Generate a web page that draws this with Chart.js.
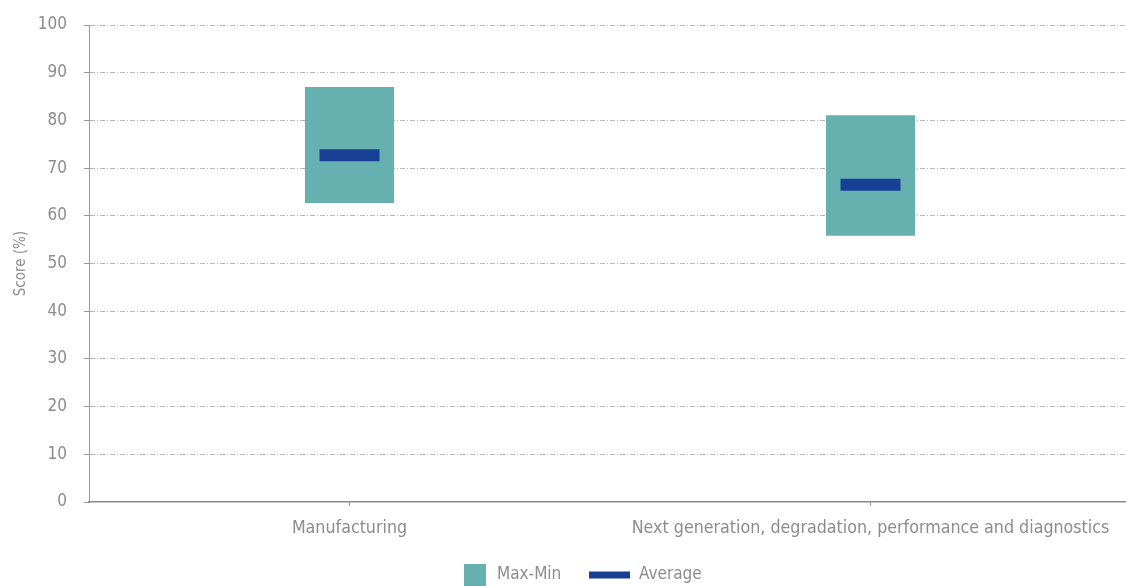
<!DOCTYPE html>
<html>
<head>
<meta charset="utf-8">
<script src="https://cdn.jsdelivr.net/npm/chart.js@4.4.0/dist/chart.umd.min.js"></script>
<style>
  html, body { margin: 0; padding: 0; overflow: hidden; background: #fff; }
  #wrap { width: 1132px; height: 586px; }
</style>
</head>
<body>
<div id="wrap"><canvas id="rangechart"></canvas></div>
<script>
const categories = ['Manufacturing', 'Next generation, degradation, performance and diagnostics'];
const minScores = [62.7, 55.8];
const maxScores = [87.0, 81.1];
const avgScores = [72.7, 66.5];
const yTicks = [0, 10, 20, 30, 40, 50, 60, 70, 80, 90, 100];

const FONT = "'DejaVu Sans Condensed', 'DejaVu Sans', sans-serif";
// no condensed web font here, so ask for the condensed stretch of an installed one
const STRETCH = 'condensed';
const TEXT = '#8c8c8c';
const TEAL = '#66b0b0';
const NAVY = '#173f93';

const bottomLegend = {
    id: 'bottomLegend',
    afterDraw(chart) {
        const c = chart.ctx;
        const y = 575;
        c.save();
        c.font = STRETCH + ' 17px ' + FONT;
        c.textBaseline = 'middle';
        c.fillStyle = TEAL;
        c.fillRect(464, y - 11, 22, 22);
        c.fillStyle = TEXT;
        c.fillText('Max-Min', 497, y);
        c.fillStyle = NAVY;
        c.fillRect(589, y - 3.5, 41, 7);
        c.fillStyle = TEXT;
        c.fillText('Average', 639, y);
        c.restore();
    }
};

const ctx = document.getElementById('rangechart').getContext('2d');
new Chart(ctx, {
    data: {
        labels: categories,
        datasets: [
            {
                type: 'line',
                label: 'Average',
                data: avgScores,
                showLine: false,
                pointStyle: 'line',
                pointRadius: 30,
                pointHoverRadius: 30,
                pointBorderWidth: 12,
                pointHoverBorderWidth: 12,
                borderColor: NAVY,
                backgroundColor: NAVY,
                order: 0
            },
            {
                type: 'bar',
                label: 'Max-Min',
                data: minScores.map((v, i) => [v, maxScores[i]]),
                backgroundColor: TEAL,
                borderWidth: 0,
                barPercentage: 1,
                categoryPercentage: 0.171,
                order: 1
            }
        ]
    },
    options: {
        responsive: true,
        maintainAspectRatio: false,
        animation: false,
        layout: { autoPadding: false, padding: { top: 25, bottom: 34, right: 1, left: 0 } },
        plugins: {
            legend: { display: false },
            tooltip: { enabled: false }
        },
        scales: {
            x: {
                afterFit(scale) {
                    scale.height = 50;
                    scale.paddingLeft = 0;
                    scale.paddingRight = 0;
                },
                grid: {
                    offset: false,
                    drawOnChartArea: false,
                    drawTicks: true,
                    tickLength: 4,
                    tickColor: '#999'
                },
                border: { color: '#8a8a8a', width: 1.5, z: 1 },
                ticks: {
                    color: TEXT,
                    padding: 12,
                    autoSkip: false,
                    maxRotation: 0,
                    font: { family: FONT, size: 17.7, weight: STRETCH }
                }
            },
            y: {
                min: 0,
                max: 100,
                afterFit(scale) {
                    scale.width = 89;
                    scale.paddingTop = 0;
                    scale.paddingBottom = 0;
                },
                afterBuildTicks(scale) { scale.ticks = yTicks.map(v => ({ value: v })); },
                grid: {
                    color: c => (c.tick && c.tick.value === 0) ? 'rgba(0,0,0,0)' : '#b8b8b8',
                    lineWidth: 1,
                    drawTicks: true,
                    tickLength: 5,
                    tickColor: '#999',
                    tickBorderDash: []
                },
                border: { color: '#9a9a9a', width: 1, dash: [5, 2, 1, 2] },
                ticks: {
                    color: TEXT,
                    padding: 17,
                    font: { family: FONT, size: 17, weight: STRETCH }
                },
                title: {
                    display: true,
                    text: 'Score (%)',
                    color: TEXT,
                    padding: { top: 12, bottom: 0 },
                    font: { family: FONT, size: 15, weight: STRETCH }
                }
            }
        }
    },
    plugins: [bottomLegend]
});
</script>
</body>
</html>
